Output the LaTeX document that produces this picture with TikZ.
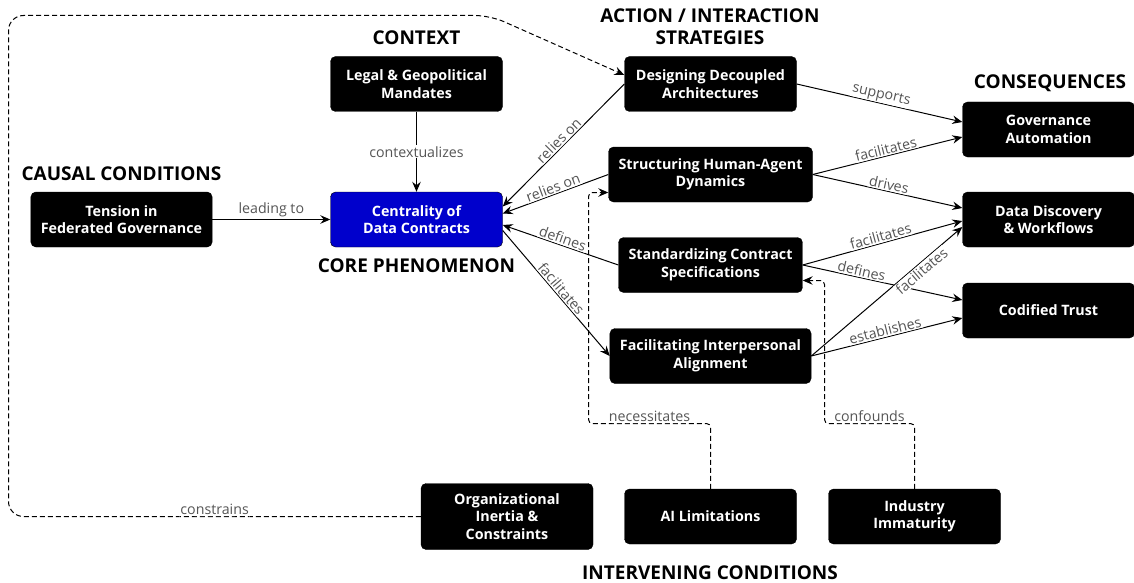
\documentclass[tikz,border=0pt]{standalone}
\usepackage{fontspec}
\setmainfont{Open Sans}
\usetikzlibrary{arrows.meta}
\definecolor{coreblue}{HTML}{0000CC}
\definecolor{labelgray}{HTML}{555555}
\begin{document}
\begin{tikzpicture}[x=1pt,y=-1pt,
  box/.style={rectangle, rounded corners=5pt, fill=black, draw=black, text=white,
    font=\bfseries\fontsize{14.3}{17.5}\selectfont, align=center,
    minimum width=172pt, minimum height=55pt, inner xsep=10pt},
  corebox/.style={box, fill=coreblue},
  head/.style={font=\bfseries\fontsize{19}{22}\selectfont, align=center, inner sep=0pt},
  lbl/.style={font=\fontsize{14.2}{16}\selectfont, text=labelgray, fill=white, inner sep=1pt},
  rel/.style={draw, line width=1pt, -{Stealth[length=10pt,width=8.5pt,inset=3.5pt]}},
  infl/.style={rel, dash pattern=on 5pt off 3pt}
]
\useasboundingbox (0,0) rectangle (1134,583);

% section headings
\node[head] (hctx)  at (416.5,38)  {CONTEXT};
\node[head] (hcaus) at (121.5,174) {CAUSAL CONDITIONS};
\node[head] (hcore) at (416.5,266) {CORE PHENOMENON};
\node[head] (hact)  at (710,27)  {ACTION / INTERACTION\\STRATEGIES};
\node[head] (hcons) at (1050,83) {CONSEQUENCES};
\node[head] (hint)  at (710,573) {INTERVENING CONDITIONS};

% categories
\node[box]     (tension) at (121.5,219.5) {Tension in\\Federated Governance};
\node[box]     (legal)   at (416.5,84)    {Legal \& Geopolitical\\Mandates};
\node[corebox] (core)    at (416.5,219.5) {Centrality of\\Data Contracts};
\node[box]     (design)  at (710.5,84)    {Designing Decoupled\\Architectures};
\node[box]     (struct)  at (710.5,174.5) {Structuring Human-Agent\\Dynamics};
\node[box]     (std)     at (710.5,265)   {Standardizing Contract\\Specifications};
\node[box]     (facil)   at (710.5,356)   {Facilitating Interpersonal\\Alignment};
\node[box]     (gov)     at (1048.5,129.5){Governance\\Automation};
\node[box]     (dd)      at (1048.5,219.5){Data Discovery\\\& Workflows};
\node[box]     (trust)   at (1048.5,310.5){Codified Trust};
\node[box, minimum height=66pt] (org) at (507,516.5) {Organizational\\Inertia \&\\Constraints};
\node[box]     (ai)      at (710.5,516.5) {AI Limitations};
\node[box]     (ind)     at (914.5,516.5) {Industry\\Immaturity};

% causal and contextual links
\path[rel] (tension.east) -- node[lbl, above=1pt] {leading to} (core.west);
\path[rel] (legal.south) -- node[lbl] {contextualizes} (core.north);

% strategies and the core phenomenon
\path[rel] (design.west) -- node[lbl, sloped, above] {relies on} ([yshift=13pt]core.east);
\path[rel] (struct.west) -- node[lbl, sloped, above] {relies on} ([yshift=6pt]core.east);
\path[rel] (std.west) -- node[lbl, sloped, above] {defines} ([yshift=-5.5pt]core.east);
\path[rel] ([yshift=-11pt]core.east) -- node[lbl, sloped, above] {facilitates} (facil.west);

% strategies and consequences
\path[rel] (design.east) -- node[lbl, sloped, above] {supports} ([yshift=7.5pt]gov.west);
\path[rel] (struct.east) -- node[lbl, sloped, above] {facilitates} ([yshift=-7.5pt]gov.west);
\path[rel] (struct.east) -- node[lbl, sloped, above] {drives} ([yshift=11.5pt]dd.west);
\path[rel] (std.east) -- node[lbl, sloped, above] {facilitates} ([yshift=-1.5pt]dd.west);
\path[rel] (std.east) -- node[lbl, sloped, above, pos=0.36] {defines} ([yshift=10.5pt]trust.west);
\path[rel] (facil.east) -- node[lbl, sloped, below, pos=0.7] {facilitates} ([yshift=-7.5pt]dd.west);
\path[rel] (facil.east) -- node[lbl, sloped, above] {establishes} ([yshift=-7.5pt]trust.west);

% intervening conditions
\path[infl, rounded corners=15pt] (org.west) -- node[lbl, above, pos=0.5] {constrains} (8.5,516.5)
  -- (8.5,15.5) -- (490,15.5) -- ([yshift=9pt]design.west);
\path[infl, rounded corners=4pt] (ai.north) -- (710.5,423.5)
  -- node[lbl, above] {necessitates} (588.5,423.5) -- (588.5,192.5) -- ([yshift=-18pt]struct.west);
\path[infl, rounded corners=4pt] (ind.north) -- (914.5,423.5)
  -- node[lbl, above] {confounds} (824.5,423.5) -- (824.5,280.5) -- ([yshift=-15.5pt]std.east);
\end{tikzpicture}
\end{document}
